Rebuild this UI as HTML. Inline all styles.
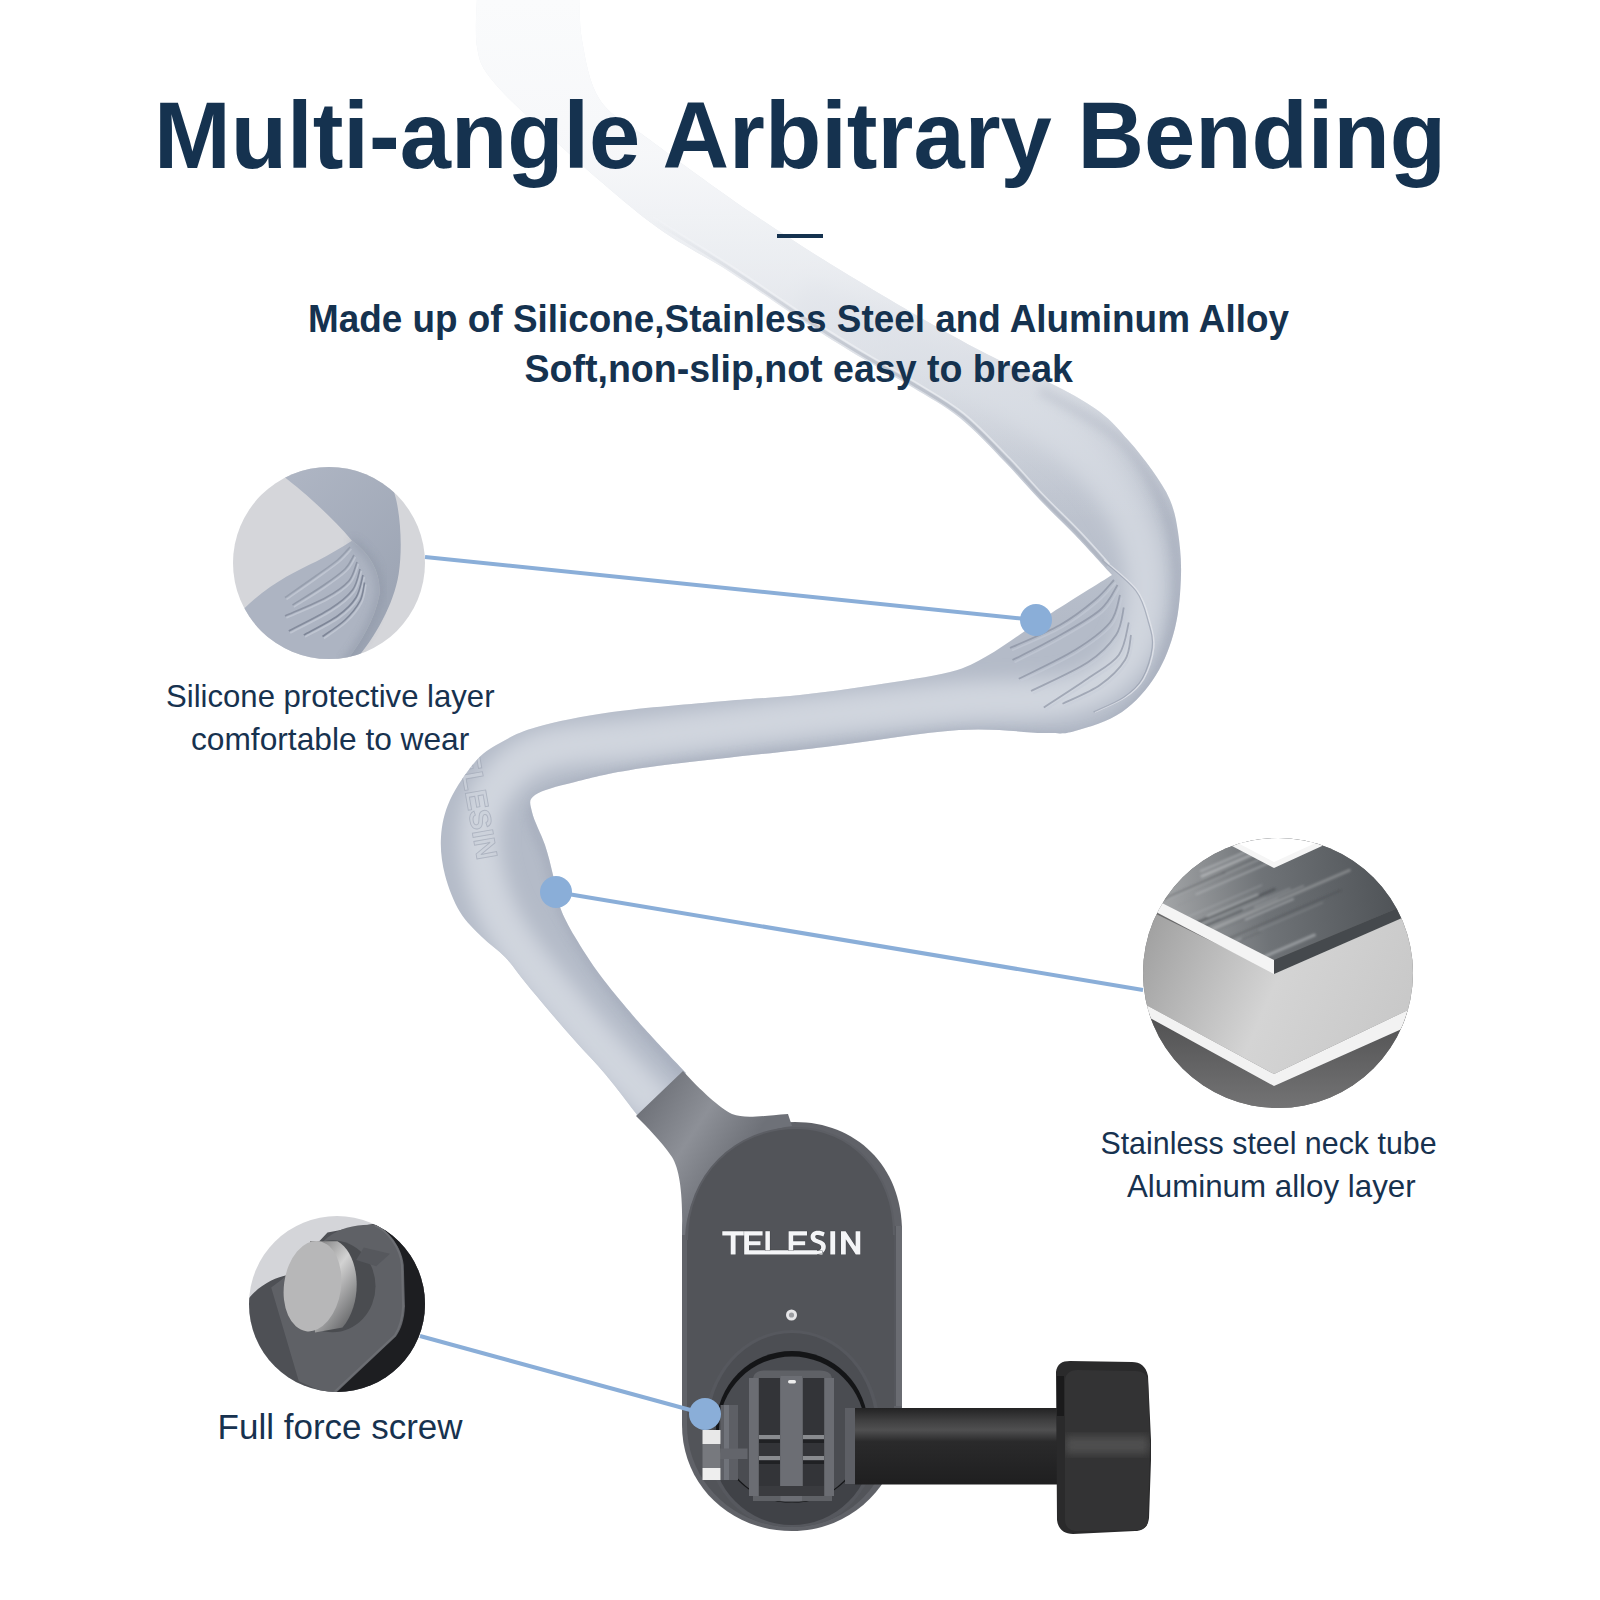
<!DOCTYPE html>
<html><head><meta charset="utf-8">
<style>
html,body{margin:0;padding:0;background:#fff;}
body{width:1600px;height:1600px;overflow:hidden;position:relative;}
svg{position:absolute;left:0;top:0;font-family:"Liberation Sans",sans-serif;}
</style></head><body>
<svg width="1600" height="1600" viewBox="0 0 1600 1600">

<defs>
  <linearGradient id="tubeG" x1="0" y1="0" x2="0" y2="620" gradientUnits="userSpaceOnUse">
    <stop offset="0" stop-color="#f0f2f5"/>
    <stop offset="0.5" stop-color="#d8dce3"/>
    <stop offset="0.8" stop-color="#bec4cf"/>
    <stop offset="1" stop-color="#b4bbc8"/>
  </linearGradient>
  <linearGradient id="c1up" x1="290" y1="460" x2="400" y2="580" gradientUnits="userSpaceOnUse">
    <stop offset="0" stop-color="#afb6c4"/>
    <stop offset="1" stop-color="#9ea6b5"/>
  </linearGradient>
  <linearGradient id="stTop" x1="1150" y1="900" x2="1400" y2="870" gradientUnits="userSpaceOnUse">
    <stop offset="0" stop-color="#a9abad"/>
    <stop offset="0.45" stop-color="#6f7377"/>
    <stop offset="1" stop-color="#4e5256"/>
  </linearGradient>
  <linearGradient id="stAl" x1="1150" y1="930" x2="1400" y2="1040" gradientUnits="userSpaceOnUse">
    <stop offset="0" stop-color="#a2a2a2"/>
    <stop offset="0.5" stop-color="#d4d4d4"/>
    <stop offset="1" stop-color="#c8c8c8"/>
  </linearGradient>
  <linearGradient id="stBot" x1="1278" y1="1010" x2="1278" y2="1110" gradientUnits="userSpaceOnUse">
    <stop offset="0" stop-color="#4f4f50"/>
    <stop offset="1" stop-color="#747475"/>
  </linearGradient>
  <linearGradient id="scrRing" x1="300" y1="1250" x2="365" y2="1300" gradientUnits="userSpaceOnUse">
    <stop offset="0" stop-color="#6a6a6b"/>
    <stop offset="0.5" stop-color="#d2d2d2"/>
    <stop offset="1" stop-color="#6d6e70"/>
  </linearGradient>
  <linearGradient id="collarG" x1="650" y1="1100" x2="740" y2="1160" gradientUnits="userSpaceOnUse">
    <stop offset="0" stop-color="#71747b"/>
    <stop offset="0.5" stop-color="#8d9097"/>
    <stop offset="1" stop-color="#6e7178"/>
  </linearGradient>
  <linearGradient id="armG" x1="0" y1="1407" x2="0" y2="1484" gradientUnits="userSpaceOnUse">
    <stop offset="0" stop-color="#202021"/>
    <stop offset="0.18" stop-color="#404041"/>
    <stop offset="0.3" stop-color="#505051"/>
    <stop offset="0.45" stop-color="#2a2a2b"/>
    <stop offset="1" stop-color="#1f1f20"/>
  </linearGradient>
  <filter id="blur8" x="-20%" y="-20%" width="140%" height="140%"><feGaussianBlur stdDeviation="9"/></filter>
  <filter id="blur1" x="-20%" y="-20%" width="140%" height="140%"><feGaussianBlur stdDeviation="1.3"/></filter>
  <filter id="blur4" x="-20%" y="-20%" width="140%" height="140%"><feGaussianBlur stdDeviation="4"/></filter>
  <linearGradient id="tubeFade" x1="0" y1="0" x2="0" y2="520" gradientUnits="userSpaceOnUse">
    <stop offset="0" stop-color="#fafbfc" stop-opacity="1"/>
    <stop offset="0.3" stop-color="#f7f8fa" stop-opacity="0.95"/>
    <stop offset="0.5" stop-color="#f0f2f5" stop-opacity="0.75"/>
    <stop offset="0.66" stop-color="#eceef2" stop-opacity="0.5"/>
    <stop offset="0.78" stop-color="#e8ebef" stop-opacity="0.32"/>
    <stop offset="0.9" stop-color="#e6e9ee" stop-opacity="0.12"/>
    <stop offset="1" stop-color="#e6e9ee" stop-opacity="0"/>
  </linearGradient>
  <clipPath id="c1"><circle cx="329" cy="563" r="96"/></clipPath>
  <clipPath id="c2"><circle cx="1278" cy="973" r="135"/></clipPath>
  <clipPath id="c3"><circle cx="337" cy="1304" r="88"/></clipPath>
</defs>
<rect width="1600" height="1600" fill="#fff"/>
<clipPath id="tubeClip"><path d="M580.0,-5.0 C580.3,2.5 578.7,22.5 582.0,40.0 C585.3,57.5 588.7,83.3 600.0,100.0 C611.3,116.7 625.0,121.3 650.0,140.0 C675.0,158.7 716.7,189.3 750.0,212.0 C783.3,234.7 812.5,253.3 850.0,276.0 C887.5,298.7 940.7,329.7 975.0,348.0 C1009.3,366.3 1035.2,375.3 1056.0,386.0 C1076.8,396.7 1088.0,403.0 1100.0,412.0 C1112.0,421.0 1119.3,430.3 1128.0,440.0 C1136.7,449.7 1145.0,460.0 1152.0,470.0 C1159.0,480.0 1165.7,489.7 1170.0,500.0 C1174.3,510.3 1176.2,519.5 1178.0,532.0 C1179.8,544.5 1181.5,559.0 1181.0,575.0 C1180.5,591.0 1179.2,611.3 1175.0,628.0 C1170.8,644.7 1164.8,661.0 1156.0,675.0 C1147.2,689.0 1135.5,702.7 1122.0,712.0 C1108.5,721.3 1088.0,727.5 1075.0,731.0 C1062.0,734.5 1063.3,733.2 1044.0,733.0 C1024.7,732.8 995.5,727.7 959.0,730.0 C922.5,732.3 876.5,740.8 825.0,747.0 C773.5,753.2 691.7,761.2 650.0,767.0 C608.3,772.8 594.2,777.3 575.0,782.0 C555.8,786.7 542.2,790.0 535.0,795.0 C527.8,800.0 530.3,803.7 532.0,812.0 C533.7,820.3 541.5,834.5 545.0,845.0 C548.5,855.5 550.5,864.7 553.0,875.0 C555.5,885.3 556.3,896.7 560.0,907.0 C563.7,917.3 568.3,925.7 575.0,937.0 C581.7,948.3 590.8,962.5 600.0,975.0 C609.2,987.5 621.2,1001.5 630.0,1012.0 C638.8,1022.5 643.7,1027.8 653.0,1038.0 C662.3,1048.2 680.5,1067.2 686.0,1073.0 L638.0,1116.0 C632.7,1109.2 616.2,1087.2 606.0,1075.0 C595.8,1062.8 586.3,1053.5 577.0,1043.0 C567.7,1032.5 558.7,1022.2 550.0,1012.0 C541.3,1001.8 532.5,991.2 525.0,982.0 C517.5,972.8 512.2,964.5 505.0,957.0 C497.8,949.5 489.5,944.5 482.0,937.0 C474.5,929.5 466.2,922.3 460.0,912.0 C453.8,901.7 448.2,887.5 445.0,875.0 C441.8,862.5 440.2,849.5 441.0,837.0 C441.8,824.5 444.3,812.5 450.0,800.0 C455.7,787.5 466.7,771.5 475.0,762.0 C483.3,752.5 489.7,748.8 500.0,743.0 C510.3,737.2 518.3,732.2 537.0,727.0 C555.7,721.8 580.7,716.3 612.0,712.0 C643.3,707.7 693.7,703.8 725.0,701.0 C756.3,698.2 775.0,697.7 800.0,695.0 C825.0,692.3 850.0,688.8 875.0,685.0 C900.0,681.2 931.3,676.8 950.0,672.0 C968.7,667.2 974.5,662.8 987.0,656.0 C999.5,649.2 1014.0,638.3 1025.0,631.0 C1036.0,623.7 1038.5,621.3 1053.0,612.0 C1067.5,602.7 1102.2,581.2 1112.0,575.0 C1105.8,568.3 1087.0,547.5 1075.0,535.0 C1063.0,522.5 1051.7,512.2 1040.0,500.0 C1028.3,487.8 1018.3,475.7 1005.0,462.0 C991.7,448.3 975.5,430.5 960.0,418.0 C944.5,405.5 928.3,397.0 912.0,387.0 C895.7,377.0 878.7,368.0 862.0,358.0 C845.3,348.0 834.0,341.3 812.0,327.0 C790.0,312.7 757.0,289.5 730.0,272.0 C703.0,254.5 680.8,245.3 650.0,222.0 C619.2,198.7 571.3,155.7 545.0,132.0 C518.7,108.3 503.3,94.2 492.0,80.0 C480.7,65.8 479.5,61.2 477.0,47.0 C474.5,32.8 477.0,3.7 477.0,-5.0 Z"/></clipPath>
<path d="M580.0,-5.0 C580.3,2.5 578.7,22.5 582.0,40.0 C585.3,57.5 588.7,83.3 600.0,100.0 C611.3,116.7 625.0,121.3 650.0,140.0 C675.0,158.7 716.7,189.3 750.0,212.0 C783.3,234.7 812.5,253.3 850.0,276.0 C887.5,298.7 940.7,329.7 975.0,348.0 C1009.3,366.3 1035.2,375.3 1056.0,386.0 C1076.8,396.7 1088.0,403.0 1100.0,412.0 C1112.0,421.0 1119.3,430.3 1128.0,440.0 C1136.7,449.7 1145.0,460.0 1152.0,470.0 C1159.0,480.0 1165.7,489.7 1170.0,500.0 C1174.3,510.3 1176.2,519.5 1178.0,532.0 C1179.8,544.5 1181.5,559.0 1181.0,575.0 C1180.5,591.0 1179.2,611.3 1175.0,628.0 C1170.8,644.7 1164.8,661.0 1156.0,675.0 C1147.2,689.0 1135.5,702.7 1122.0,712.0 C1108.5,721.3 1088.0,727.5 1075.0,731.0 C1062.0,734.5 1063.3,733.2 1044.0,733.0 C1024.7,732.8 995.5,727.7 959.0,730.0 C922.5,732.3 876.5,740.8 825.0,747.0 C773.5,753.2 691.7,761.2 650.0,767.0 C608.3,772.8 594.2,777.3 575.0,782.0 C555.8,786.7 542.2,790.0 535.0,795.0 C527.8,800.0 530.3,803.7 532.0,812.0 C533.7,820.3 541.5,834.5 545.0,845.0 C548.5,855.5 550.5,864.7 553.0,875.0 C555.5,885.3 556.3,896.7 560.0,907.0 C563.7,917.3 568.3,925.7 575.0,937.0 C581.7,948.3 590.8,962.5 600.0,975.0 C609.2,987.5 621.2,1001.5 630.0,1012.0 C638.8,1022.5 643.7,1027.8 653.0,1038.0 C662.3,1048.2 680.5,1067.2 686.0,1073.0 L638.0,1116.0 C632.7,1109.2 616.2,1087.2 606.0,1075.0 C595.8,1062.8 586.3,1053.5 577.0,1043.0 C567.7,1032.5 558.7,1022.2 550.0,1012.0 C541.3,1001.8 532.5,991.2 525.0,982.0 C517.5,972.8 512.2,964.5 505.0,957.0 C497.8,949.5 489.5,944.5 482.0,937.0 C474.5,929.5 466.2,922.3 460.0,912.0 C453.8,901.7 448.2,887.5 445.0,875.0 C441.8,862.5 440.2,849.5 441.0,837.0 C441.8,824.5 444.3,812.5 450.0,800.0 C455.7,787.5 466.7,771.5 475.0,762.0 C483.3,752.5 489.7,748.8 500.0,743.0 C510.3,737.2 518.3,732.2 537.0,727.0 C555.7,721.8 580.7,716.3 612.0,712.0 C643.3,707.7 693.7,703.8 725.0,701.0 C756.3,698.2 775.0,697.7 800.0,695.0 C825.0,692.3 850.0,688.8 875.0,685.0 C900.0,681.2 931.3,676.8 950.0,672.0 C968.7,667.2 974.5,662.8 987.0,656.0 C999.5,649.2 1014.0,638.3 1025.0,631.0 C1036.0,623.7 1038.5,621.3 1053.0,612.0 C1067.5,602.7 1102.2,581.2 1112.0,575.0 C1105.8,568.3 1087.0,547.5 1075.0,535.0 C1063.0,522.5 1051.7,512.2 1040.0,500.0 C1028.3,487.8 1018.3,475.7 1005.0,462.0 C991.7,448.3 975.5,430.5 960.0,418.0 C944.5,405.5 928.3,397.0 912.0,387.0 C895.7,377.0 878.7,368.0 862.0,358.0 C845.3,348.0 834.0,341.3 812.0,327.0 C790.0,312.7 757.0,289.5 730.0,272.0 C703.0,254.5 680.8,245.3 650.0,222.0 C619.2,198.7 571.3,155.7 545.0,132.0 C518.7,108.3 503.3,94.2 492.0,80.0 C480.7,65.8 479.5,61.2 477.0,47.0 C474.5,32.8 477.0,3.7 477.0,-5.0 Z" fill="url(#tubeG)"/>
<g clip-path="url(#tubeClip)">
  <path d="M800.0,295.0 C816.7,302.5 865.0,322.5 900.0,340.0 C935.0,357.5 978.3,380.0 1010.0,400.0 C1041.7,420.0 1069.2,438.3 1090.0,460.0 C1110.8,481.7 1125.8,506.7 1135.0,530.0 C1144.2,553.3 1146.7,578.3 1145.0,600.0 C1143.3,621.7 1137.5,644.2 1125.0,660.0 C1112.5,675.8 1097.5,688.0 1070.0,695.0 C1042.5,702.0 1001.7,698.5 960.0,702.0 C918.3,705.5 871.7,710.2 820.0,716.0 C768.3,721.8 696.7,731.0 650.0,737.0 C603.3,743.0 566.3,742.8 540.0,752.0 C513.7,761.2 502.0,777.3 492.0,792.0 C482.0,806.7 480.0,822.0 480.0,840.0 C480.0,858.0 485.3,881.7 492.0,900.0 C498.7,918.3 508.7,933.3 520.0,950.0 C531.3,966.7 545.0,982.0 560.0,1000.0 C575.0,1018.0 593.3,1039.7 610.0,1058.0 C626.7,1076.3 651.7,1101.3 660.0,1110.0" stroke="#d0d5de" stroke-width="40" fill="none" filter="url(#blur8)" opacity="1"/>
  <path d="M1040.0,390.0 C1053.3,398.3 1099.2,420.0 1120.0,440.0 C1140.8,460.0 1155.3,486.7 1165.0,510.0 C1174.7,533.3 1177.2,558.3 1178.0,580.0 C1178.8,601.7 1176.3,620.0 1170.0,640.0 C1163.7,660.0 1155.0,684.2 1140.0,700.0 C1125.0,715.8 1110.0,729.2 1080.0,735.0 C1050.0,740.8 1006.7,732.2 960.0,735.0 C913.3,737.8 851.7,746.2 800.0,752.0 C748.3,757.8 690.0,763.7 650.0,770.0 C610.0,776.3 579.7,783.0 560.0,790.0 C540.3,797.0 534.0,800.3 532.0,812.0 C530.0,823.7 543.0,843.7 548.0,860.0 C553.0,876.3 555.0,893.3 562.0,910.0 C569.0,926.7 577.0,940.8 590.0,960.0 C603.0,979.2 623.3,1005.0 640.0,1025.0 C656.7,1045.0 681.7,1070.8 690.0,1080.0" stroke="#9ba3b3" stroke-width="10" fill="none" filter="url(#blur4)" opacity="0.45"/>
  <rect x="0" y="0" width="1600" height="560" fill="url(#tubeFade)"/>
  <path d="M1114.0,580.0 C1110.8,583.3 1104.0,592.5 1095.0,600.0 C1086.0,607.5 1074.2,617.0 1060.0,625.0 C1045.8,633.0 1018.3,644.2 1010.0,648.0" stroke="#7c8496" stroke-width="1.8" fill="none" opacity="0.55"/><path d="M1116.0,582.5 C1112.8,585.8 1106.0,595.0 1097.0,602.5 C1088.0,610.0 1076.2,619.5 1062.0,627.5 C1047.8,635.5 1020.3,646.7 1012.0,650.5" stroke="#c8ceda" stroke-width="1.8" fill="none" opacity="0.5"/><path d="M1117.5,585.0 C1114.6,589.2 1110.2,601.2 1100.0,610.0 C1089.8,618.8 1070.6,629.2 1056.0,637.5 C1041.4,645.8 1019.8,656.2 1012.5,660.0" stroke="#7c8496" stroke-width="1.8" fill="none" opacity="0.55"/><path d="M1119.5,587.5 C1116.6,591.7 1112.2,603.8 1102.0,612.5 C1091.8,621.2 1072.6,631.7 1058.0,640.0 C1043.4,648.3 1021.8,658.8 1014.5,662.5" stroke="#c8ceda" stroke-width="1.8" fill="none" opacity="0.5"/><path d="M1120.0,595.0 C1118.3,599.6 1117.5,613.3 1110.0,622.5 C1102.5,631.7 1090.2,640.6 1075.0,650.0 C1059.8,659.4 1028.1,674.0 1018.8,678.8" stroke="#7c8496" stroke-width="1.8" fill="none" opacity="0.55"/><path d="M1122.0,597.5 C1120.3,602.1 1119.5,615.8 1112.0,625.0 C1104.5,634.2 1092.2,643.1 1077.0,652.5 C1061.8,661.9 1030.1,676.5 1020.8,681.2" stroke="#c8ceda" stroke-width="1.8" fill="none" opacity="0.5"/><path d="M1123.8,607.5 C1122.5,612.1 1122.0,625.8 1116.0,635.0 C1110.0,644.2 1101.7,653.2 1087.5,662.5 C1073.3,671.8 1040.4,686.2 1031.0,691.0" stroke="#7c8496" stroke-width="1.8" fill="none" opacity="0.55"/><path d="M1125.8,610.0 C1124.5,614.6 1124.0,628.3 1118.0,637.5 C1112.0,646.7 1103.7,655.7 1089.5,665.0 C1075.3,674.3 1042.4,688.8 1033.0,693.5" stroke="#c8ceda" stroke-width="1.8" fill="none" opacity="0.5"/><path d="M1128.8,622.5 C1127.1,627.9 1125.6,645.6 1118.8,655.0 C1111.9,664.4 1100.0,670.0 1087.5,678.8 C1075.0,687.5 1051.0,702.7 1043.8,707.5" stroke="#7c8496" stroke-width="1.8" fill="none" opacity="0.55"/><path d="M1130.8,625.0 C1129.1,630.4 1127.6,648.1 1120.8,657.5 C1113.9,666.9 1102.0,672.5 1089.5,681.2 C1077.0,690.0 1053.0,705.2 1045.8,710.0" stroke="#c8ceda" stroke-width="1.8" fill="none" opacity="0.5"/><path d="M1131.0,635.0 C1130.0,639.2 1130.2,651.7 1125.0,660.0 C1119.8,668.3 1110.4,677.7 1100.0,685.0 C1089.6,692.3 1068.8,700.6 1062.5,703.8" stroke="#7c8496" stroke-width="1.8" fill="none" opacity="0.55"/><path d="M1133.0,637.5 C1132.0,641.7 1132.2,654.2 1127.0,662.5 C1121.8,670.8 1112.4,680.2 1102.0,687.5 C1091.6,694.8 1070.8,703.1 1064.5,706.2" stroke="#c8ceda" stroke-width="1.8" fill="none" opacity="0.5"/><path d="M1103.8,560.0 C1109.4,565.2 1129.8,580.6 1137.5,591.0 C1145.2,601.4 1147.3,613.1 1150.0,622.5 C1152.7,631.9 1154.8,638.1 1153.8,647.5 C1152.7,656.9 1148.5,670.4 1143.8,678.8 C1139.0,687.1 1133.1,692.0 1125.0,697.5 C1116.9,703.0 1100.0,709.6 1095.0,712.0" stroke="#e2e5eb" stroke-width="1.5" fill="none" opacity="0.8"/><path d="M1102.2,560.0 C1107.9,565.2 1128.3,580.6 1136.0,591.0 C1143.7,601.4 1145.8,613.1 1148.5,622.5 C1151.2,631.9 1153.3,638.1 1152.2,647.5 C1151.2,656.9 1147.0,670.4 1142.2,678.8 C1137.5,687.1 1131.6,692.0 1123.5,697.5 C1115.4,703.0 1098.5,709.6 1093.5,712.0" stroke="#8f97a8" stroke-width="1.2" fill="none" opacity="0.6"/>
  <linearGradient id="ebG" x1="0" y1="220" x2="0" y2="400" gradientUnits="userSpaceOnUse"><stop offset="0" stop-color="#aab0bc" stop-opacity="0"/><stop offset="0.6" stop-color="#aab0bc" stop-opacity="0.45"/><stop offset="1" stop-color="#aab0bc" stop-opacity="0.6"/></linearGradient><path d="M651.6,219.5 C664.9,227.8 704.6,252.0 731.6,269.5 C758.6,287.0 791.7,310.2 813.6,324.5 C835.6,338.8 846.9,345.4 863.5,355.4 C880.2,365.4 897.2,374.4 913.6,384.4 C930.0,394.5 946.3,403.1 961.9,415.7 C977.5,428.2 993.8,446.2 1007.1,459.9 C1020.5,473.6 1030.5,485.8 1042.2,497.9 C1053.8,510.1 1066.3,521.6 1077.2,532.9 C1088.0,544.3 1102.2,560.5 1107.2,566.0" stroke="url(#ebG)" stroke-width="3" fill="none"/><path d="M653.2,216.9 C666.5,225.3 706.2,249.5 733.3,267.0 C760.3,284.5 793.3,307.7 815.3,322.0 C837.2,336.3 848.4,342.9 865.1,352.9 C881.7,362.8 898.7,371.8 915.1,381.9 C931.6,392.0 948.1,400.7 963.8,413.3 C979.5,426.0 995.9,444.1 1009.3,457.8 C1022.7,471.6 1032.7,483.7 1044.3,495.8 C1056.0,508.0 1068.5,519.5 1079.3,530.9 C1090.2,542.2 1104.4,558.4 1109.4,564.0" stroke="#f2f4f7" stroke-width="1.6" fill="none" opacity="0.6"/>
  <text x="0" y="0" font-weight="bold" font-size="30" fill="#cbd0da" stroke="#a3aab8" stroke-width="0.9" transform="translate(455,735) rotate(80)" textLength="128" lengthAdjust="spacingAndGlyphs" opacity="0.75">TELESIN</text>
</g>

<text x="154" y="168" font-weight="bold" font-size="95" fill="#15324f" textLength="1292" lengthAdjust="spacingAndGlyphs">Multi-angle Arbitrary Bending</text>
<rect x="777" y="234" width="46" height="4" fill="#15324f"/>
<text x="308" y="332" font-weight="bold" font-size="39" fill="#15324f" textLength="981" lengthAdjust="spacingAndGlyphs">Made up of Silicone,Stainless Steel and Aluminum Alloy</text>
<text x="524.5" y="381.5" font-weight="bold" font-size="39" fill="#15324f" textLength="548.5" lengthAdjust="spacingAndGlyphs">Soft,non-slip,not easy to break</text>
<g fill="#17324f">
<text x="166" y="707" font-size="31.5" textLength="328.5" lengthAdjust="spacingAndGlyphs">Silicone protective layer</text>
<text x="191" y="749.5" font-size="31.5" textLength="278.3" lengthAdjust="spacingAndGlyphs">comfortable to wear</text>
<text x="1100.4" y="1153.5" font-size="31.5" textLength="336.3" lengthAdjust="spacingAndGlyphs">Stainless steel neck tube</text>
<text x="1127" y="1197" font-size="31.5" textLength="288.6" lengthAdjust="spacingAndGlyphs">Aluminum alloy layer</text>
<text x="217.6" y="1438.5" font-size="35.5" textLength="245" lengthAdjust="spacingAndGlyphs">Full force screw</text>
</g>

<g clip-path="url(#c1)">
  <rect x="220" y="450" width="220" height="220" fill="#d5d6da"/>
  <path d="M352.0,540.7 C341.0,547.6 330.0,554.5 316.2,561.4 C295.6,571.0 268.1,584.7 244.7,608.1 L233.7,628.7 L288.7,683.7 L343.7,664.5 C357.5,646.6 374.0,623.2 379.5,594.4 C380.9,573.7 371.2,554.5 352.0,540.7Z" fill="#adb4c2"/>
  <path d="M350.0,547.0 C347.9,549.2 343.3,555.1 337.5,560.0 C331.7,564.9 323.8,570.2 315.0,576.5 C306.2,582.8 290.0,594.0 285.0,597.5" stroke="#6f7789" stroke-width="1.6" fill="none" opacity="0.35"/><path d="M351.5,549.0 C349.4,551.2 344.8,557.1 339.0,562.0 C333.2,566.9 325.2,572.2 316.5,578.5 C307.8,584.8 291.5,596.0 286.5,599.5" stroke="#cdd3de" stroke-width="1.6" fill="none" opacity="0.55"/><path d="M354.0,555.0 C352.5,557.3 350.2,563.8 345.0,569.0 C339.8,574.2 331.2,580.0 322.5,586.0 C313.8,592.0 297.5,601.8 292.5,605.0" stroke="#6f7789" stroke-width="1.6" fill="none" opacity="0.45"/><path d="M355.5,557.0 C354.0,559.3 351.8,565.8 346.5,571.0 C341.2,576.2 332.8,582.0 324.0,588.0 C315.2,594.0 299.0,603.8 294.0,607.0" stroke="#cdd3de" stroke-width="1.6" fill="none" opacity="0.55"/><path d="M357.0,562.0 C355.6,565.2 353.9,575.1 348.8,581.0 C343.6,586.9 336.6,591.7 326.0,597.5 C315.4,603.3 291.8,612.9 285.0,616.0" stroke="#6f7789" stroke-width="1.6" fill="none" opacity="0.55"/><path d="M358.5,564.0 C357.1,567.2 355.4,577.1 350.2,583.0 C345.1,588.9 338.1,593.7 327.5,599.5 C316.9,605.3 293.3,614.9 286.5,618.0" stroke="#cdd3de" stroke-width="1.6" fill="none" opacity="0.55"/><path d="M360.0,569.0 C358.8,572.5 357.5,583.3 352.5,590.0 C347.5,596.7 340.6,602.2 330.0,609.0 C319.4,615.8 295.6,627.3 288.8,631.0" stroke="#6f7789" stroke-width="1.6" fill="none" opacity="0.65"/><path d="M361.5,571.0 C360.2,574.5 359.0,585.3 354.0,592.0 C349.0,598.7 342.1,604.2 331.5,611.0 C320.9,617.8 297.1,629.3 290.2,633.0" stroke="#cdd3de" stroke-width="1.6" fill="none" opacity="0.55"/><path d="M363.0,575.0 C361.8,578.8 360.2,590.7 356.0,597.5 C351.8,604.3 346.2,609.8 337.5,616.0 C328.8,622.2 309.4,631.8 303.8,635.0" stroke="#6f7789" stroke-width="1.6" fill="none" opacity="0.75"/><path d="M364.5,577.0 C363.3,580.8 361.8,592.7 357.5,599.5 C353.2,606.3 347.7,611.8 339.0,618.0 C330.3,624.2 310.9,633.8 305.2,637.0" stroke="#cdd3de" stroke-width="1.6" fill="none" opacity="0.55"/><path d="M364.5,582.5 C363.8,585.6 363.2,594.8 360.0,601.0 C356.8,607.2 351.2,614.1 345.0,620.0 C338.8,625.9 326.2,633.8 322.5,636.5" stroke="#6f7789" stroke-width="1.6" fill="none" opacity="0.75"/><path d="M366.0,584.5 C365.2,587.6 364.8,596.8 361.5,603.0 C358.2,609.2 352.8,616.1 346.5,622.0 C340.2,627.9 327.8,635.8 324.0,638.5" stroke="#cdd3de" stroke-width="1.6" fill="none" opacity="0.55"/>
  <path d="M283.2,476.1 C302.5,491.2 330.0,514.6 352.0,540.7 C371.2,554.5 380.9,573.7 379.5,594.4 C374.0,623.2 357.5,646.6 343.7,664.5 L352.0,664.5 C371.2,642.5 393.2,608.1 398.7,573.7 C402.9,546.2 400.1,511.9 394.6,494.0 L391.9,463.7 L283.2,463.7Z" fill="url(#c1up)"/>
  <path d="M352.0,540.7 C371.2,554.5 380.9,573.7 379.5,594.4 C374.0,623.2 357.5,646.6 343.7,664.5" stroke="#8c94a4" stroke-width="5" fill="none" filter="url(#blur4)" opacity="0.8"/>
</g>

<g clip-path="url(#c2)">
  <rect x="1130" y="830" width="300" height="300" fill="#6a6a6b"/>
  <path d="M1120.0,1000.0 L1274.0,1072.0 L1440.0,996.0 L1440.0,1160.0 L1120.0,1160.0Z" fill="url(#stBot)"/>
  <path d="M1120.0,908.0 L1152.0,912.0 L1274.0,972.0 L1400.0,916.0 L1440.0,908.0 L1440.0,1000.0 L1408.0,1010.0 L1274.0,1074.0 L1148.0,1006.0 L1120.0,1000.0Z" fill="url(#stAl)"/>
  <path d="M1120.0,1000.0 L1148.0,1006.0 L1274.0,1074.0 L1408.0,1010.0 L1440.0,1000.0 L1440.0,1020.0 L1404.0,1028.0 L1274.0,1086.0 L1150.0,1018.0 L1120.0,1012.0Z" fill="#f2f2f2"/>
  <path d="M1120.0,820.0 L1440.0,820.0 L1440.0,904.0 L1398.0,908.0 L1274.0,960.0 L1160.0,904.0 L1120.0,896.0Z" fill="url(#stTop)"/>
  <clipPath id="steelClip"><path d="M1120.0,820.0 L1440.0,820.0 L1440.0,904.0 L1398.0,908.0 L1274.0,960.0 L1160.0,904.0 L1120.0,896.0Z"/></clipPath>
  <g clip-path="url(#steelClip)" stroke-linecap="round" filter="url(#blur1)"><line x1="1168.1" y1="898.9" x2="1279.7" y2="850.9" stroke="#b9bcbf" stroke-width="1.0" opacity="0.54"/><line x1="1259.2" y1="929.9" x2="1322.8" y2="902.6" stroke="#b9bcbf" stroke-width="1.0" opacity="0.40"/><line x1="1200.9" y1="870.9" x2="1331.9" y2="814.6" stroke="#b9bcbf" stroke-width="2.2" opacity="0.58"/><line x1="1157.4" y1="930.0" x2="1261.8" y2="885.1" stroke="#b9bcbf" stroke-width="0.9" opacity="0.59"/><line x1="1184.8" y1="963.0" x2="1240.6" y2="939.0" stroke="#b9bcbf" stroke-width="2.0" opacity="0.45"/><line x1="1162.4" y1="941.8" x2="1265.2" y2="897.6" stroke="#8c9094" stroke-width="2.0" opacity="0.38"/><line x1="1157.2" y1="867.5" x2="1219.8" y2="840.6" stroke="#44484c" stroke-width="1.5" opacity="0.40"/><line x1="1204.4" y1="930.3" x2="1277.4" y2="898.9" stroke="#8c9094" stroke-width="1.3" opacity="0.49"/><line x1="1213.0" y1="928.9" x2="1349.3" y2="870.3" stroke="#c8cacc" stroke-width="3.0" opacity="0.35"/><line x1="1200.2" y1="874.2" x2="1323.5" y2="821.2" stroke="#8c9094" stroke-width="1.7" opacity="0.58"/><line x1="1159.3" y1="975.4" x2="1260.7" y2="931.8" stroke="#5a5e62" stroke-width="1.6" opacity="0.37"/><line x1="1245.6" y1="919.6" x2="1293.2" y2="899.1" stroke="#b9bcbf" stroke-width="1.8" opacity="0.58"/><line x1="1157.3" y1="939.7" x2="1274.4" y2="889.3" stroke="#44484c" stroke-width="2.6" opacity="0.60"/><line x1="1196.3" y1="894.2" x2="1309.8" y2="845.3" stroke="#b9bcbf" stroke-width="1.6" opacity="0.58"/><line x1="1209.2" y1="933.3" x2="1273.2" y2="905.8" stroke="#5a5e62" stroke-width="1.3" opacity="0.30"/><line x1="1254.6" y1="906.9" x2="1303.4" y2="885.9" stroke="#c8cacc" stroke-width="1.4" opacity="0.39"/><line x1="1201.7" y1="876.4" x2="1302.2" y2="833.2" stroke="#c8cacc" stroke-width="2.3" opacity="0.60"/><line x1="1177.7" y1="905.7" x2="1226.8" y2="884.5" stroke="#8c9094" stroke-width="1.3" opacity="0.33"/><line x1="1220.7" y1="918.2" x2="1289.6" y2="888.6" stroke="#b9bcbf" stroke-width="2.0" opacity="0.30"/><line x1="1188.2" y1="933.2" x2="1242.0" y2="910.0" stroke="#44484c" stroke-width="2.2" opacity="0.58"/><line x1="1204.8" y1="948.8" x2="1340.6" y2="890.4" stroke="#44484c" stroke-width="1.7" opacity="0.39"/><line x1="1226.1" y1="872.4" x2="1273.0" y2="852.3" stroke="#b9bcbf" stroke-width="1.8" opacity="0.59"/><line x1="1222.1" y1="873.2" x2="1273.3" y2="851.1" stroke="#44484c" stroke-width="1.0" opacity="0.30"/><line x1="1153.1" y1="903.6" x2="1289.2" y2="845.1" stroke="#44484c" stroke-width="2.2" opacity="0.38"/><line x1="1222.3" y1="974.7" x2="1314.4" y2="935.0" stroke="#b9bcbf" stroke-width="3.0" opacity="0.55"/><line x1="1208.1" y1="915.9" x2="1257.5" y2="894.7" stroke="#b9bcbf" stroke-width="2.4" opacity="0.51"/></g>
  <path d="M1160.0,902.0 L1274.0,960.0 L1274.0,974.0 L1156.0,912.0Z" fill="#f4f4f4"/>
  <path d="M1274.0,960.0 L1398.0,908.0 L1402.0,918.0 L1274.0,974.0Z" fill="#45494d"/>
  <path d="M1232.0,840.0 L1240.0,840.0 L1274.0,858.0 L1312.0,840.0 L1324.0,840.0 L1322.0,846.0 L1274.0,868.0 L1232.0,846.0Z" fill="#f5f5f5"/>
  <path d="M1228.0,810.0 L1328.0,810.0 L1322.0,840.0 L1274.0,862.0 L1236.0,842.0Z" fill="#ffffff"/>
</g>

<g clip-path="url(#c3)">
  <rect x="240" y="1210" width="200" height="200" fill="#d4d5d9"/>
  <path d="M247.5,1300.0 C258.8,1285.0 275.0,1277.5 287.5,1275.0 L327.5,1232.5 373.8,1223.8 440.0,1225.0 440.0,1412.5 240.0,1412.5Z" fill="#4e5055"/>
  <path d="M271.2,1287.5 L281.2,1280.0 L327.5,1237.5 C340.0,1227.5 358.8,1223.8 375.0,1225.0 C387.5,1228.8 402.5,1247.5 403.8,1265.0 L405.0,1306.2 C404.4,1320.0 401.2,1328.8 396.2,1336.2 L332.5,1396.2 L298.8,1381.2Z" fill="#5f6166"/>
  <path d="M375.0,1225.0 C387.5,1228.8 402.5,1247.5 403.8,1265.0 L405.0,1306.2 C404.4,1320.0 401.2,1328.8 396.2,1336.2 L332.5,1396.2 L440.0,1412.5 L440.0,1200.0 L365.0,1200.0Z" fill="#1d1e21"/>
  <path d="M375.0,1225.6 C386.2,1229.4 400.6,1247.5 401.9,1265.0 L403.1,1306.2 C402.5,1319.4 399.4,1328.1 394.8,1335.6 L331.9,1394.4" fill="none" stroke="#6c6e73" stroke-width="2"/>
  <ellipse cx="332.5" cy="1286.2" rx="43" ry="46" fill="#4a4c50"/>
  <path d="M310.0,1241.2 L337.5,1241.2 C358.8,1252.5 365.0,1300.0 342.5,1327.5 L315.0,1332.5 Z" fill="url(#scrRing)"/>
  <ellipse cx="312.5" cy="1286.2" rx="28.5" ry="45.5" transform="rotate(8 312.5 1286.2)" fill="#b7b7b8"/>
  <path d="M356.2,1260.0 L363.8,1247.5 L390.0,1253.8 L376.2,1266.2Z" fill="#56585d"/>
</g>

<!-- back shell -->
<path d="M682,1235 C682,1170 730,1122 795,1122 C855,1122 902,1165 902,1232 L902,1420 C902,1480 855,1531 792,1531 C730,1531 682,1485 682,1425Z" fill="#606268"/>
<path d="M636,1116 L683,1071 C700,1090 720,1108 732,1114 C745,1119 760,1116 788,1114 L792,1126 C760,1130 715,1150 698,1190 C690,1205 686,1220 685,1235 L682,1235 C683,1195 680,1170 672,1157 C660,1140 648,1128 636,1116Z" fill="url(#collarG)"/>
<rect x="882" y="1226" width="20" height="180" fill="#55575d"/>
<rect x="896" y="1226" width="6" height="180" fill="#6a6c72"/>
<!-- front face -->
<path d="M687,1240 C687,1175 735,1128 797,1128 C850,1128 894,1172 894,1235 L894,1420 C894,1480 850,1527 792,1527 C734,1527 687,1482 687,1425Z" fill="#525459"/>
<path d="M687,1240 C687,1175 735,1128 797,1128 C850,1128 894,1172 894,1235" fill="none" stroke="#5c5e64" stroke-width="2"/>
<!-- TELESIN -->
<g fill="#f4f5f7" stroke="#3a3c41" stroke-width="0.6" paint-order="stroke">
<path d="M722.3,1231.2 H745 V1235.4 H735.6 V1254.5 H730.7 V1235.4 H722.3Z"/>
<path d="M744.2,1231.2 H762.6 V1235.4 H749 V1241.2 H760.5 V1245.2 H749 V1250.3 H822.5 V1254.5 H744.2Z"/>
<path d="M765.4,1231.2 H769.9 V1250.5 H765.4Z"/>
<path d="M788.6,1231.2 H807 V1235.4 H793.2 V1241.2 H805.2 V1245.2 H793.2 V1250.5 H788.6Z"/>
<path d="M824.8,1232.5 C822.5,1231.3 820.2,1230.8 817.8,1230.8 C813.4,1230.8 810.6,1233.4 810.6,1236.9 C810.6,1240.6 813.6,1242.2 817.4,1243.4 C820.2,1244.3 821.2,1245.3 821.2,1247.2 C821.2,1249.6 819.5,1250.5 817.2,1250.5 L822.5,1250.5 L822.5,1254.5 L817.5,1254.5 C821.8,1254.4 825.8,1251.8 825.8,1246.8 C825.8,1242.8 823,1241 819,1239.8 C816.4,1239 815.2,1238.2 815.2,1236.6 C815.2,1235.2 816.3,1234.9 818,1234.9 C819.8,1234.9 821.6,1235.4 823.4,1236.4Z"/>
<path d="M830.3,1231.2 H835.2 V1254.5 H830.3Z"/>
<path d="M841,1231.2 H845.6 L855.6,1246.5 V1231.2 H860.3 V1254.5 H855.8 L845.8,1239.2 V1254.5 H841Z"/>
</g>
<circle cx="791.5" cy="1315" r="5.5" fill="#e6e6e8"/>
<circle cx="791.5" cy="1315" r="2.6" fill="#9a9ca0"/>
<clipPath id="faceClip"><path d="M687,1240 C687,1175 735,1128 797,1128 C850,1128 894,1172 894,1235 L894,1420 C894,1480 850,1527 792,1527 C734,1527 687,1482 687,1425Z"/></clipPath>
<g clip-path="url(#faceClip)">
<!-- mount ring -->
<ellipse cx="792" cy="1430" rx="88" ry="100" fill="#56585e"/>
<ellipse cx="792" cy="1428" rx="84" ry="95" fill="#4c4e53"/>
<ellipse cx="792" cy="1445" rx="80" ry="80" fill="#404247"/>
<circle cx="792" cy="1427" r="76" fill="#141517"/>
<circle cx="792" cy="1429.5" r="73" fill="#4a4c51"/>
<!-- mount base -->
<path d="M753,1380 C753,1374 757,1370.5 765,1370.5 L820,1370.5 C828,1370.5 832,1374 832,1380 L832,1501 L753,1501Z" fill="#5f6166"/>
<rect x="749" y="1378" width="9" height="118" fill="#6b6d73"/>
<rect x="825" y="1378" width="9" height="118" fill="#6b6d73"/>
<rect x="759" y="1378" width="21" height="108" fill="#333438"/>
<rect x="803" y="1378" width="21" height="108" fill="#333438"/>
<rect x="780.5" y="1376" width="21.5" height="125" fill="#6c6e74"/>
<rect x="759" y="1486" width="65" height="10" fill="#3a3b3f"/>
</g>
<g fill="#a6a8ac" opacity="0.75">
<rect x="759" y="1435" width="21" height="4"/><rect x="803" y="1435" width="21" height="4"/>
<rect x="759" y="1456" width="21" height="4"/><rect x="803" y="1456" width="21" height="4"/>
</g>
<g fill="#1c1d20" opacity="0.8">
<rect x="759" y="1440" width="21" height="3"/><rect x="803" y="1440" width="21" height="3"/>
<rect x="759" y="1461" width="21" height="3"/><rect x="803" y="1461" width="21" height="3"/>
</g>
<rect x="788" y="1380" width="8" height="3.5" rx="1.7" fill="#eeeeee"/>
<rect x="720.5" y="1405" width="17.5" height="75" fill="#5d5f65"/>
<rect x="724" y="1405" width="5" height="75" fill="#70737a"/>
<rect x="720.5" y="1448.5" width="27" height="10.5" fill="#63656b"/>
<rect x="845" y="1408" width="10.5" height="76" fill="#5d5f65"/>
<!-- side screws -->
<rect x="702.5" y="1430" width="18" height="14" fill="#e8e8e8"/>
<rect x="702.5" y="1444" width="18" height="24" fill="#77797e"/>
<rect x="702.5" y="1468" width="18" height="12" fill="#eeeeee"/>
<!-- arm & knob -->
<rect x="855" y="1408" width="205" height="76.5" fill="url(#armG)"/>
<path d="M1056,1372 C1057,1364 1062,1361 1070,1361 L1132,1362 C1140,1362 1146,1366 1148,1376 L1151,1440 L1151,1460 L1149,1518 C1148,1527 1143,1531 1135,1531 L1073,1534 C1064,1534 1058,1529 1057,1520Z" fill="#2a2a2b"/>
<path d="M1065,1381 C1065,1374 1070,1370 1077,1370 L1136,1371 C1143,1371 1148,1375 1148,1382 L1150,1445 L1148,1520 C1148,1527 1143,1530 1136,1530 L1077,1531 C1070,1531 1065,1527 1065,1520Z" fill="#333334"/>
<clipPath id="knobClip"><path d="M1065,1381 C1065,1374 1070,1370 1077,1370 L1136,1371 C1143,1371 1148,1375 1148,1382 L1150,1445 L1148,1520 C1148,1527 1143,1530 1136,1530 L1077,1531 C1070,1531 1065,1527 1065,1520Z"/></clipPath>
<g clip-path="url(#knobClip)"><rect x="1065" y="1436" width="84" height="18" fill="#565657" filter="url(#blur4)" opacity="0.8"/></g>
<rect x="1057" y="1376" width="7" height="40" fill="#141415" opacity="0.7"/>

<g stroke="#8aaed8" stroke-width="4" fill="none">
<line x1="425" y1="557" x2="1036" y2="620"/>
<line x1="556" y1="892" x2="1143" y2="990"/>
<line x1="420" y1="1336" x2="705" y2="1414"/>
</g>
<g fill="#8aaed8">
<circle cx="1036" cy="620" r="16"/>
<circle cx="556" cy="892" r="16"/>
<circle cx="705" cy="1414" r="16"/>
</g>
</svg>
</body></html>
